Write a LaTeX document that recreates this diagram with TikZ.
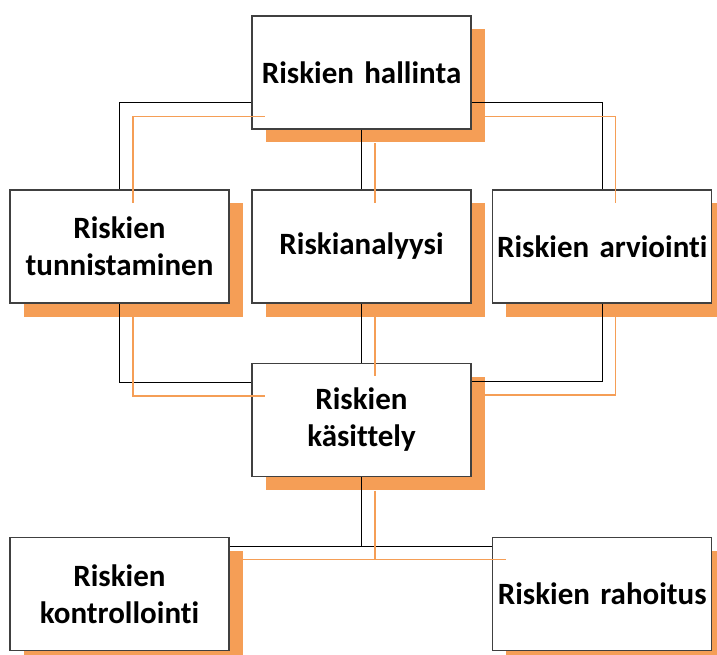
\documentclass[tikz,border=0pt]{standalone}
\usepackage{fontspec}
\setmainfont{Carlito}[Ligatures=NoCommon]
\definecolor{shadoworange}{HTML}{F59E56}
\definecolor{boxline}{HTML}{404040}
\tikzset{
  box/.style={draw=boxline, line width=1.2pt, fill=white, minimum width=219pt, minimum height=113pt,
    inner sep=0pt, align=center, font=\fontsize{31}{37}\selectfont\bfseries, text width=215pt},
  boxshadow/.style={fill=shadoworange, draw=none, minimum width=219pt, minimum height=113pt, inner sep=0pt},
  conn/.style={draw=black, line width=1pt},
  sconn/.style={draw=shadoworange, line width=1.2pt, transform canvas={xshift=13.5pt,yshift=-13.5pt}}
}
\begin{document}
\begin{tikzpicture}[x=1pt,y=-1pt]
\useasboundingbox (0,0) rectangle (717,655);
% shadows
\foreach \n/\x/\y in {sA/375/86, sB/133/260, sC/375/260, sD/615.75/260, sE/375/433.5, sF/133/607.5, sG/615.75/607.5}
  \node[boxshadow] (\n) at (\x,\y) {};
% boxes
\node[box] (A) at (361.5,72.5) {Riskien hallinta};
\node[box] (B) at (119.5,246.5) {Riskien\\tunnistaminen};
\node[box] (C) at (361.5,246.5) {Riskianalyysi};
\node[box] (D) at (602.25,246.5) {Riskien arviointi};
\node[box] (E) at (361.5,420) {Riskien\\käsittely};
\node[box] (F) at (119.5,594) {Riskien\\kontrollointi};
\node[box] (G) at (602.25,594) {Riskien rahoitus};
% connector points
\coordinate (aw) at ([yshift=-30.5pt]A.west);
\coordinate (ae) at ([yshift=-30.5pt]A.east);
\coordinate (ew) at ([yshift=37.5pt]E.west);
\coordinate (ee) at ([yshift=38.5pt]E.east);
\coordinate (fe) at ([yshift=48pt]F.east);
\coordinate (gw) at ([yshift=48pt]G.west);
\coordinate (j) at (E.south |- fe);
% black connectors
\draw[conn] (aw) -| (B.north);
\draw[conn] (ae) -| (D.north);
\draw[conn] (A.south) -- (C.north);
\draw[conn] (B.south) |- (ew);
\draw[conn] (D.south) |- (ee);
\draw[conn] (C.south) -- (E.north);
\draw[conn] (fe) -- (gw);
\draw[conn] (E.south) -- (j);
% orange connector shadows
\draw[sconn] (aw) -| (B.north);
\draw[sconn] (ae) -| (D.north);
\draw[sconn] (A.south) -- (C.north);
\draw[sconn] (B.south) |- (ew);
\draw[sconn] (D.south) |- (ee);
\draw[sconn] (C.south) -- (E.north);
\draw[sconn] (fe) -- (gw);
\draw[sconn] (E.south) -- (j);
\end{tikzpicture}
\end{document}
